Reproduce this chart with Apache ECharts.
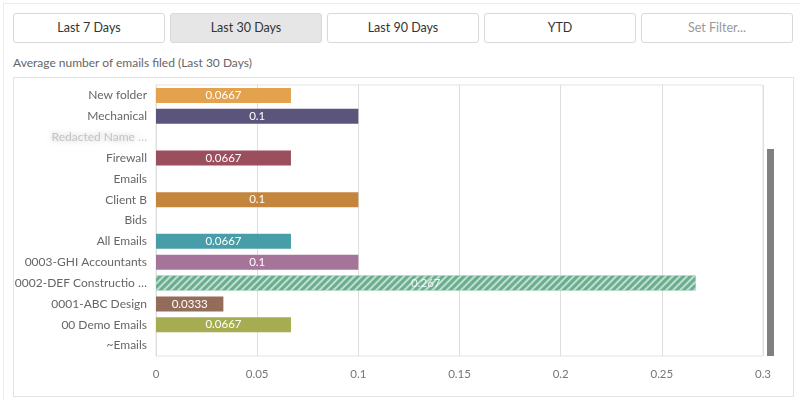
<!DOCTYPE html>
<html>
<head>
<meta charset="utf-8">
<script src="https://cdn.jsdelivr.net/npm/echarts@6/dist/echarts.min.js"></script>
<style>
    html, body { margin: 0; padding: 0; background: #fff; }
    body { width: 800px; height: 400px; position: relative; overflow: hidden; font-family: Lato, 'Noto Sans', sans-serif; }
    .frame { position: absolute; left: 3px; top: 3px; width: 800px; height: 400px; border-left: 1px solid #ececec; border-top: 1px solid #ececec; }
    .btn { position: absolute; top: 13px; width: 150px; height: 28px; border: 1px solid #d9d9d9; border-radius: 3px; background: #fff;
           font-size: 12.5px; color: #333; line-height: 28px; text-align: center; }
    .btn.active { background: #e6e6e6; }
    .btn.filter { color: #999; }
    .title { position: absolute; left: 13px; top: 55px; font-size: 12px; color: #666; }
    #barChart { position: absolute; left: 13px; top: 77px; width: 779px; height: 318px; border: 1px solid #e3e3e3; }
</style>
</head>
<body>
<div class="frame"></div>
<div class="btn" style="left:13px">Last 7 Days</div>
<div class="btn active" style="left:170px">Last 30 Days</div>
<div class="btn" style="left:327px">Last 90 Days</div>
<div class="btn" style="left:484px">YTD</div>
<div class="btn filter" style="left:641px">Set Filter...</div>
<div class="title">Average number of emails filed (Last 30 Days)</div>
<div id="barChart"></div>
<script>
// categories top to bottom (third one is redacted in the original)
var categories = ['New folder', 'Mechanical', 'Redacted Name', 'Firewall', 'Emails', 'Client B', 'Bids',
    'All Emails', '0003-GHI Accountants', '0002-DEF Construction', '0001-ABC Design', '00 Demo Emails', '~Emails'];
var values = [0.0667, 0.1, 0, 0.0667, 0, 0.1, 0, 0.0667, 0.1, 0.2667, 0.0333, 0.0667, 0];
var colors = ['#e3a34e', '#5b547c', '#999999', '#9b4f5e', '#999999', '#c4863c', '#999999',
    '#479ea8', '#a67498', '#6aad8f', '#946d5a', '#a5ad50', '#999999'];
var xTicks = [0, 0.05, 0.1, 0.15, 0.2, 0.25, 0.3];

var barChart = echarts.init(document.getElementById('barChart'));

var seriesData = values.map(function (v, i) {
    var item = { value: v, itemStyle: { color: colors[i] } };
    if (i === 9) {
        // hatched bar
        item.itemStyle.decal = {
            symbol: 'rect',
            dashArrayX: [1, 0],
            dashArrayY: [2, 3],
            rotation: -Math.PI / 4,
            color: 'rgba(220,240,230,0.75)'
        };
        item.label = { color: 'rgba(255,255,255,0.85)' };
    }
    return item;
});

var barOption = {
    animation: false,
    textStyle: { fontFamily: 'Lato, Noto Sans, sans-serif' },
    grid: {
        left: 142, right: 30, top: 7, bottom: 40,
        outerBoundsMode: 'none', containLabel: false,
        show: true, borderColor: '#e3e3e3', borderWidth: 1
    },
    xAxis: {
        type: 'value',
        min: 0,
        max: 0.3,
        interval: 0.05,
        axisLine: { show: false },
        axisTick: { show: false },
        splitLine: { lineStyle: { color: '#dedede' } },
        axisLabel: {
            color: '#777',
            fontSize: 11.5,
            margin: 12,
            formatter: function (v) {
                var t = xTicks.filter(function (x) { return Math.abs(x - v) < 1e-9; });
                return t.length ? String(t[0]) : '';
            }
        }
    },
    yAxis: {
        type: 'category',
        inverse: true,
        data: categories,
        axisLine: { show: true, lineStyle: { color: '#dedede' } },
        axisTick: { show: false },
        axisLabel: {
            color: '#666',
            fontSize: 12,
            margin: 9,
            formatter: function (v, i) {
                if (i === 2) return '{blur|' + v + ' \u2026}';
                if (v.length > 20) return v.slice(0, 20) + ' \u2026';
                return v;
            },
            rich: {
                blur: {
                    color: '#c4c4c4',
                    fontSize: 12,
                    textShadowColor: '#b8b8b8',
                    textShadowBlur: 6
                }
            }
        }
    },
    series: [
        {
            type: 'bar',
            data: seriesData,
            barWidth: 15,
            label: {
                show: true,
                position: 'inside',
                color: '#fff',
                fontSize: 11.5,
                formatter: function (p) { return p.value ? String(Number(p.value.toPrecision(3))) : ''; }
            }
        }
    ],
    graphic: [
        {
            type: 'rect',
            right: 19,
            bottom: 40,
            shape: { width: 7, height: 207 },
            style: { fill: '#808080' }
        }
    ]
};

barChart.setOption(barOption, true);
</script>
</body>
</html>
